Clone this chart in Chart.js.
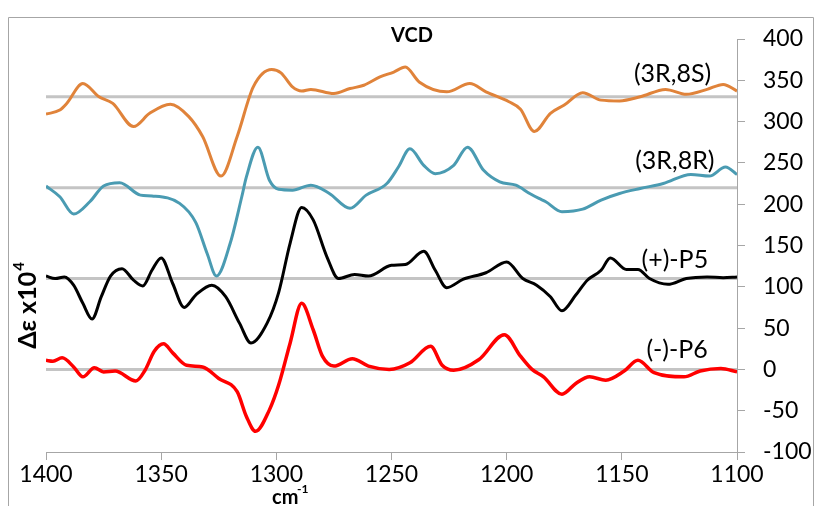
<!DOCTYPE html>
<html>
<head>
<meta charset="utf-8">
<script src="https://cdn.jsdelivr.net/npm/chart.js@4/dist/chart.umd.min.js"></script>
<style>
  html, body { margin: 0; padding: 0; background: #fff; }
  #wrap { width: 818px; height: 506px; position: relative; }
</style>
</head>
<body>
<div id="wrap"><canvas id="chart" width="818" height="506"></canvas></div>
<script>
// wavenumbers (cm-1) and delta-epsilon x10^4 values
const wn3R8S = [1400,1394,1391,1384,1377,1371,1362,1355,1346,1338,1332,1324,1317,1310,1302,1298,1293,1289,1285,1275,1268,1262,1255,1249,1244,1238,1226,1216,1209,1199,1194,1188,1181,1175,1167,1159,1151,1142,1131,1122,1113,1106,1100];
const val3R8S = [309,314,322,346,330,322,294,310,321,306,282,234,282,342,363,359,342,337,339,334,340,344,354,360,366,348,336,346,336,324,315,288,310,320,335,326,325,330,339,333,339,345,337];

const wn3R8R = [1400,1394,1388,1381,1375,1368,1359,1354,1342,1335,1330,1326,1320,1315,1313,1308,1303,1299,1293,1285,1277,1268,1261,1252,1247,1242,1236,1231,1223,1217,1210,1203,1196,1190,1186,1183,1176,1167,1159,1151,1142,1132,1120,1112,1105,1100];
const val3R8R = [222,209,188,203,222,226,211,210,201,178,140,113,153,209,233,269,229,218,217,223,213,195,211,225,245,267,247,237,247,269,241,227,223,213,207,203,191,194,205,213,219,225,236,234,245,236];

const wnP5 = [1400,1396,1392,1388,1384,1380,1376,1372,1367,1362,1358,1354,1350,1345,1340,1335,1328,1322,1316,1311,1304,1299,1294,1289,1284,1278,1273,1266,1260,1250,1244,1236,1231,1226,1219,1209,1200,1193,1187,1181,1176,1170,1165,1159,1155,1148,1143,1138,1130,1122,1113,1106,1100];
const valP5 = [113,110,112,102,80,61,88,113,122,108,101,120,135,104,75,90,102,88,56,32,56,93,153,196,181,136,110,115,113,126,127,143,120,99,109,117,130,110,102,88,71,90,108,120,135,121,121,110,103,110,112,111,112];

const wnP6 = [1400,1397,1393,1388,1384,1379,1375,1370,1361,1357,1353,1349,1345,1339,1332,1325,1317,1313,1309,1303,1299,1294,1289,1284,1280,1275,1267,1260,1251,1242,1233,1228,1223,1212,1201,1194,1189,1184,1176,1170,1164,1157,1149,1143,1136,1123,1116,1107,1100];
const valP6 = [11,10,14,3,-9,2,-3,-2,-14,-1,22,31,20,5,3,-11,-27,-57,-75,-49,-19,32,80,48,16,4,13,4,0,8,28,5,-1,12,42,16,0,-9,-30,-17,-9,-13,-2,11,-4,-9,-2,1,-3];

// horizontal reference lines under each spectrum
const baselines = [0, 110, 220, 330];

const seriesNames = ["(3R,8S)", "(3R,8R)", "(+)-P5", "(-)-P6"];
const seriesColors = ["#E0833A", "#4A9BB2", "#000000", "#FF0000"];
// label anchors in data units (wavenumber, value)
const labelAt = [[1128, 358], [1127, 252], [1127, 132], [1126, 23]];

const xTicks = [1400, 1350, 1300, 1250, 1200, 1150, 1100];

const pts = (xs, ys) => xs.map((x, i) => ({ x: x, y: ys[i] }));

const curve = (i, xs, ys) => ({
  label: seriesNames[i],
  data: pts(xs, ys),
  borderColor: seriesColors[i],
  borderWidth: i === 3 ? 3.5 : 3,
  pointRadius: 0,
  cubicInterpolationMode: "monotone",
  order: 1,
});

const datasets = [
  curve(0, wn3R8S, val3R8S),
  curve(1, wn3R8R, val3R8R),
  curve(2, wnP5, valP5),
  curve(3, wnP6, valP6),
].concat(
  baselines.map((b) => ({
    label: "base" + b,
    data: [{ x: 1400, y: b }, { x: 1100, y: b }],
    borderColor: "#C4C4C4",
    borderWidth: 3,
    pointRadius: 0,
    order: 5,
  }))
);

const extras = {
  id: "extras",
  afterDraw(chart) {
    const c = chart.ctx;
    const xs = chart.scales.x;
    const ys = chart.scales.y;
    c.save();
    // frame round the figure
    c.strokeStyle = "#A6A6A6";
    c.lineWidth = 1;
    c.beginPath();
    c.moveTo(8.5, 506);
    c.lineTo(8.5, 17.5);
    c.lineTo(813.5, 17.5);
    c.lineTo(813.5, 506);
    c.stroke();

    c.fillStyle = "#000";
    c.textAlign = "center";
    c.textBaseline = "middle";
    c.font = "bold 20px Lato";
    c.fillText("VCD", 412, 36);

    c.font = "25px Lato";
    labelAt.forEach((p, i) => {
      c.fillText(seriesNames[i], xs.getPixelForValue(p[0]), ys.getPixelForValue(p[1]));
    });

    // x axis unit
    c.font = "bold 20px Lato";
    c.textAlign = "left";
    c.fillText("cm", 272, 498);
    c.font = "bold 12px Lato";
    c.fillText("-1", 297, 489);

    // y axis title
    c.translate(28, 306);
    c.rotate(-Math.PI / 2);
    c.font = "bold 25px Lato";
    c.textAlign = "left";
    const t = "\u0394\u03b5 x10";
    const w = c.measureText(t).width;
    c.font = "bold 15px Lato";
    const w4 = c.measureText("4").width;
    const x0 = -(w + w4) / 2;
    c.font = "bold 25px Lato";
    c.fillText(t, x0, 0);
    c.font = "bold 15px Lato";
    c.fillText("4", x0 + w + 1, -9);
    c.restore();
  },
};

const chart = new Chart(document.getElementById("chart"), {
  type: "line",
  data: { datasets },
  options: {
    responsive: false,
    animation: false,
    devicePixelRatio: 1,
    layout: { padding: { left: 46, top: 39, right: 0, bottom: 0 } },
    plugins: {
      legend: { display: false },
      tooltip: { enabled: false },
    },
    scales: {
      x: {
        type: "linear",
        reverse: true,
        min: 1100,
        max: 1400,
        afterBuildTicks: (axis) => {
          axis.ticks = xTicks.map((v) => ({ value: v }));
        },
        afterFit: (axis) => {
          axis.height = 54;
        },
        grid: {
          drawOnChartArea: false,
          drawTicks: true,
          tickLength: 8,
          color: "#A6A6A6",
        },
        border: { display: true, color: "#A6A6A6", width: 1 },
        ticks: {
          color: "#000",
          font: { family: "Lato", size: 23 },
          padding: 1,
          maxRotation: 0,
          callback: (v) => String(v),
        },
      },
      y: {
        position: "right",
        min: -100,
        max: 400,
        afterFit: (axis) => {
          axis.width = 81;
        },
        ticks: {
          stepSize: 50,
          color: "#000",
          font: { family: "Lato", size: 23 },
          padding: 18,
        },
        grid: {
          drawOnChartArea: false,
          drawTicks: true,
          tickLength: 8,
          color: "#A6A6A6",
        },
        border: { display: true, color: "#A6A6A6", width: 1 },
      },
    },
  },
  plugins: [extras],
});
</script>
</body>
</html>
